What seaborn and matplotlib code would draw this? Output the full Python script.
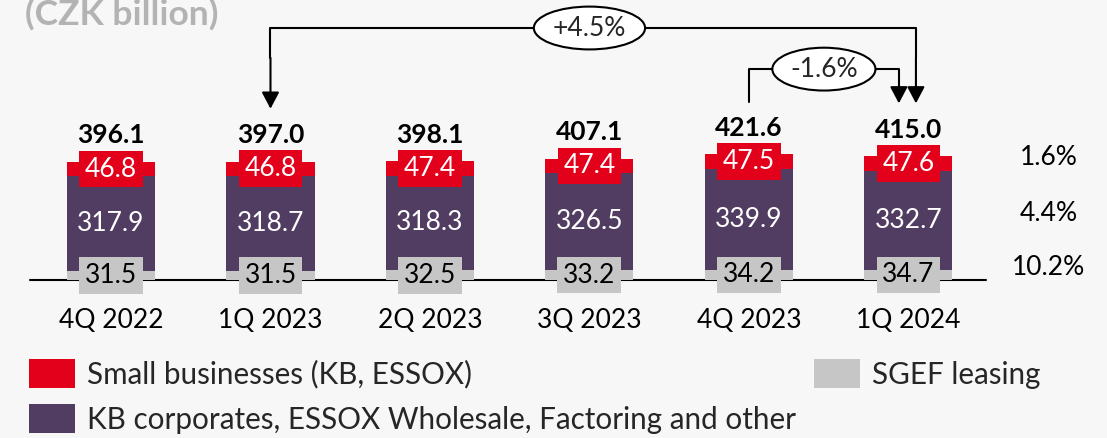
import matplotlib
matplotlib.use('Agg')
import matplotlib.pyplot as plt
import seaborn as sns
import numpy as np
import pandas as pd
from matplotlib.patches import Patch

# Data
quarters = ['4Q 2022', '1Q 2023', '2Q 2023', '3Q 2023', '4Q 2023', '1Q 2024']
small_business = [46.8, 46.8, 47.4, 47.4, 47.5, 47.6]
corporates = [317.9, 318.7, 318.3, 326.5, 339.9, 332.7]
sgef_leasing = [31.5, 31.5, 32.5, 33.2, 34.2, 34.7]
totals = [396.1, 397.0, 398.1, 407.1, 421.6, 415.0]
yoy_growth = ['1.6%', '4.4%', '10.2%']   # small business, corporates, leasing
change_year = '+4.5%'
change_quarter = '-1.6%'

series_names = ['Small businesses (KB, ESSOX)',
                'KB corporates, ESSOX Wholesale, Factoring and other',
                'SGEF leasing']

RED = '#e2001a'
PURPLE = '#523d62'
GREY = '#c6c6c6'
BG = '#f7f7f7'

sns.set_theme(style='white')
plt.rcParams['font.family'] = ['Lato', 'DejaVu Sans']

df = pd.DataFrame({'Quarter': quarters, 'Small': small_business,
                   'Corp': corporates, 'Leasing': sgef_leasing, 'Total': totals})
df['Top'] = df['Leasing'] + df['Corp'] + df['Small']
df['Mid'] = df['Leasing'] + df['Corp']

fig = plt.figure(figsize=(11.07, 4.38), dpi=100, facecolor=BG)
ax = fig.add_axes([0, 0, 1, 1])
ax.set_facecolor(BG)

W = 0.552
FS = 19
for col, colr in [('Top', RED), ('Mid', PURPLE), ('Leasing', GREY)]:
    sns.barplot(data=df, x='Quarter', y=col, order=quarters, color=colr,
                saturation=1, width=W, ax=ax, zorder=2, linewidth=0)

# scale chosen so bars land where they do in the source
ax.set_xlim(-0.696, 6.245)
ax.set_ylim(-530, 940)
ax.axis('off')

# baseline
ax.plot([-0.508, 5.486], [0, 0], color='black', lw=1.5, zorder=1)

for i, row in df.iterrows():
    ax.text(i, row['Mid'] + row['Small'] / 2, f"{row['Small']:.1f}", ha='center', va='center',
            color='white', fontsize=FS, zorder=5,
            bbox=dict(boxstyle='square,pad=0.22', fc=RED, ec='none'))
    ax.text(i, row['Leasing'] + row['Corp'] / 2, f"{row['Corp']:.1f}", ha='center', va='center',
            color='white', fontsize=FS, zorder=5)
    ax.text(i, row['Leasing'] / 2, f"{row['Leasing']:.1f}", ha='center', va='center',
            color='black', fontsize=FS, zorder=5,
            bbox=dict(boxstyle='square,pad=0.22', fc=GREY, ec='none'))
    ax.annotate(f"{row['Total']:.1f}", (i, row['Top']), xytext=(0, 13.5),
                textcoords='offset points', ha='center', va='baseline',
                fontsize=FS, fontweight='bold', color='black')
    ax.text(i, -135, row['Quarter'], ha='center', va='center', fontsize=FS, color='black')

# growth column on the right
for lbl, yv in zip(yoy_growth, [410, 225, 43]):
    ax.text(5.88, yv, lbl, ha='center', va='center', fontsize=FS, color='black')

# change arrows
arrow_kw = dict(arrowstyle='-|>,head_length=0.72,head_width=0.38', color='black', lw=1.5,
                shrinkA=0, shrinkB=0, mutation_scale=14)
off = 178
top_year = 846
x_a, x_b = 1, 5 + 0.047
ax.plot([x_a, x_a, x_b, x_b], [top_year - 100, top_year, top_year, top_year - 100],
        color='black', lw=1.5, zorder=3)
ax.annotate('', xy=(x_a, totals[1] + off), xytext=(x_a, top_year - 100), arrowprops=arrow_kw)
ax.annotate('', xy=(x_b, totals[5] + off), xytext=(x_b, top_year - 100), arrowprops=arrow_kw)
ax.text((x_a + 5) / 2, top_year, change_year, ha='center', va='center', fontsize=FS, zorder=6,
        bbox=dict(boxstyle='ellipse,pad=0.1', fc='white', ec='black', lw=1.5))

top_q = 708
x_c, x_d = 4, 5 - 0.06
ax.plot([x_c, x_c, x_d, x_d], [totals[4] + off - 2, top_q, top_q, top_q - 60],
        color='black', lw=1.5, zorder=3)
ax.annotate('', xy=(x_d, totals[5] + off), xytext=(x_d, top_q - 60), arrowprops=arrow_kw)
ax.text(4.47, top_q, change_quarter, ha='center', va='center', fontsize=FS, zorder=6,
        bbox=dict(boxstyle='ellipse,pad=0.1', fc='white', ec='black', lw=1.5))

# unit title (cut at the top edge like in the source)
fig.text(25 / 1107, 1 - 25 / 438, '(CZK billion)', ha='left', va='baseline',
         fontsize=25.5, fontweight='bold', color='#b3b3b3')

handles = [Patch(fc=RED, ec='none'), Patch(fc=PURPLE, ec='none'), Patch(fc=GREY, ec='none')]
fig.legend(handles, [series_names[0], series_names[1], series_names[2]], ncol=2,
           loc='upper left', bbox_to_anchor=(29 / 1107, 1 - 359 / 438), frameon=False,
           fontsize=21.3, handlelength=1.55, handleheight=1.15, handletextpad=0.42,
           labelspacing=0.52, columnspacing=0.6, borderpad=0, borderaxespad=0)

fig.savefig('out.png', dpi=100, facecolor=BG)
